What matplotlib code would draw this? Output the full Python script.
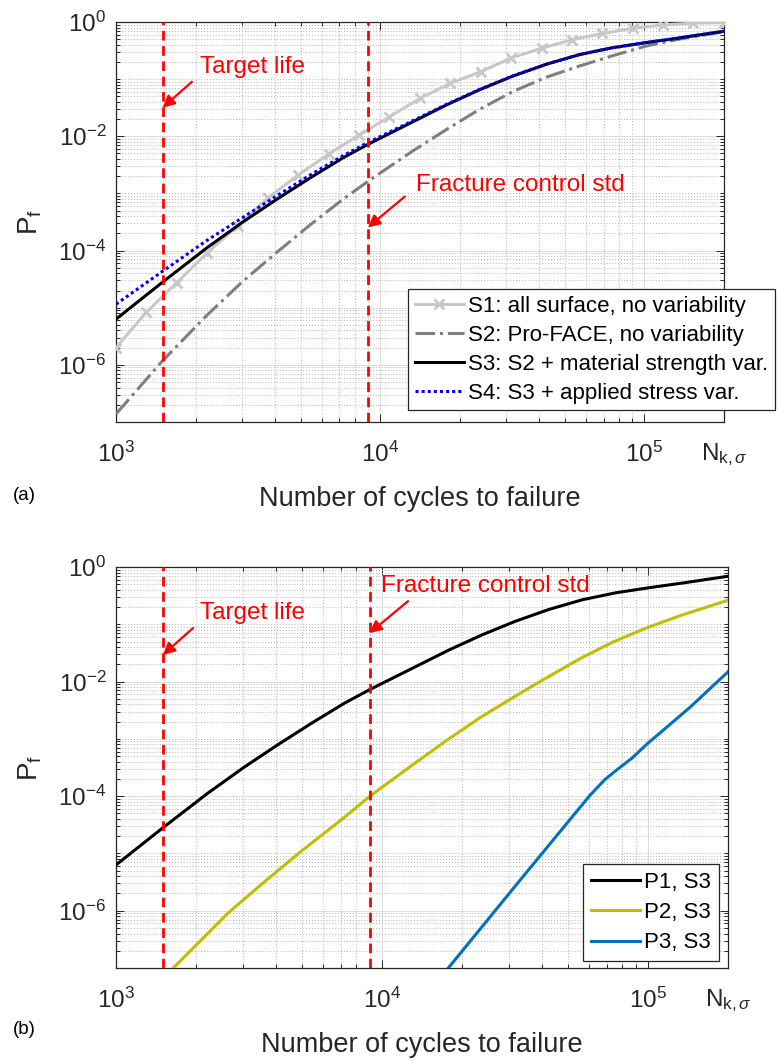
import matplotlib
matplotlib.use('Agg')
import matplotlib.pyplot as plt
from matplotlib.ticker import FixedLocator, NullFormatter

plt.rcParams['font.family'] = ['Liberation Sans', 'DejaVu Sans']
plt.rcParams['mathtext.fontset'] = 'custom'
plt.rcParams['mathtext.rm'] = 'Liberation Sans'
plt.rcParams['mathtext.it'] = 'Liberation Sans:italic'
plt.rcParams['mathtext.sf'] = 'Liberation Sans'

# ---------------- data ----------------
# Panel (a)
N_S1 = [1000, 1303, 1698, 2213, 2884, 3758, 4897, 6382, 8318, 10840, 14142,
        18428, 24016, 31298, 40786, 53183, 69278, 90283, 117648, 153320, 200000]
P_S1 = [2.0e-6, 8.3e-6, 2.75e-5, 9.1e-5, 2.7e-4, 8.3e-4, 2.1e-3, 4.9e-3, 1.05e-2,
        2.2e-2, 4.6e-2, 8.5e-2, 0.135, 0.234, 0.347, 0.49, 0.63, 0.776, 0.89,
        0.955, 0.977]

N_S = [1000, 1493, 2210, 3020, 4060, 5420, 7230, 8970, 13250, 17840, 23730,
       31600, 42500, 56800, 75800, 101700, 135000, 200000]
P_S2 = [1.38e-7, 1.15e-6, 7.4e-6, 2.9e-5, 9.3e-5, 2.8e-4, 7.9e-4, 1.62e-3,
        5.5e-3, 1.32e-2, 2.95e-2, 6.0e-2, 0.108, 0.17, 0.257, 0.38, 0.50, 0.676]
P_S3 = [6.3e-6, 2.75e-5, 1.12e-4, 3.16e-4, 7.9e-4, 1.86e-3, 4.2e-3, 7.2e-3,
        1.78e-2, 3.55e-2, 6.5e-2, 0.112, 0.182, 0.269, 0.355, 0.437, 0.525, 0.69]
P_S4 = [1.15e-5, 4.27e-5, 1.51e-4, 3.8e-4, 9.1e-4, 2.09e-3, 4.57e-3, 7.76e-3,
        1.86e-2, 3.63e-2, 6.6e-2, 0.1135, 0.183, 0.27, 0.356, 0.437, 0.525, 0.69]

LABELS_A = ['S1: all surface, no variability',
            'S2: Pro-FACE, no variability',
            'S3: S2 + material strength var.',
            'S4: S3 + applied stress var.']

# Panel (b)
N_P1 = N_S
P_P1 = P_S3
N_P2 = [1642, 2637, 3478, 4918, 6953, 9013, 13080, 17560, 23360, 31080, 39270,
        55530, 73860, 99130, 131900, 200000]
P_P2 = [1.0e-7, 9.1e-7, 2.75e-6, 1.05e-5, 3.7e-5, 1.0e-4, 3.55e-4, 9.5e-4,
        2.34e-3, 5.25e-3, 1.0e-2, 2.51e-2, 4.9e-2, 8.7e-2, 0.141, 0.263]
N_P3 = [17760, 33030, 60160, 68900, 77300, 87060, 99130, 143900, 200000]
P_P3 = [1.0e-7, 3.4e-6, 1.0e-4, 1.95e-4, 3.0e-4, 4.6e-4, 8.1e-4, 3.55e-3, 1.48e-2]

LABELS_B = ['P1, S3', 'P2, S3', 'P3, S3']

TARGET_LIFE = 1500
FRACTURE_STD = 8980

XTICKS = [1e3, 1e4, 1e5, 2e5]
XTICKLABELS = [r'$10^{3}$', r'$10^{4}$', r'$10^{5}$', r'$\mathrm{N}_{\mathrm{k},\sigma}$']
YTICKS = [1e-6, 1e-4, 1e-2, 1e0]
YTICKLABELS = [r'$10^{-6}$', r'$10^{-4}$', r'$10^{-2}$', r'$10^{0}$']

AX_COL = '#262626'


def style(ax):
    ax.set_xscale('log')
    ax.set_yscale('log')
    ax.set_xlim(1e3, 2e5)
    ax.set_ylim(1e-7, 1)
    ax.xaxis.set_major_locator(FixedLocator(XTICKS))
    ax.set_xticklabels(XTICKLABELS)
    xminor = [k * 10 ** e for e in (3, 4) for k in range(2, 10)]
    ax.xaxis.set_minor_locator(FixedLocator(xminor))
    ax.xaxis.set_minor_formatter(NullFormatter())
    ax.yaxis.set_major_locator(FixedLocator(YTICKS))
    ax.set_yticklabels(YTICKLABELS)
    yminor = [k * 10.0 ** e for e in range(-7, 0) for k in range(1, 10)
              if not (k == 1 and e in (-6, -4, -2))]
    ax.yaxis.set_minor_locator(FixedLocator(yminor))
    ax.yaxis.set_minor_formatter(NullFormatter())
    ax.grid(True, which='major', color='#dcdcdc', lw=0.7, ls='-')
    ax.grid(True, which='minor', color='#b5b5b5', lw=0.7, ls=(0, (1, 2)))
    ax.set_axisbelow(True)
    ax.tick_params(which='both', direction='in', top=True, right=True,
                   color=AX_COL, labelcolor=AX_COL, width=0.7)
    ax.tick_params(which='major', length=6, labelsize=17.5)
    ax.tick_params(which='minor', length=3)
    ax.tick_params(axis='x', which='major', pad=14)
    ax.tick_params(axis='y', which='major', pad=7)
    for s in ax.spines.values():
        s.set_color(AX_COL)
        s.set_linewidth(0.9)
    ax.set_xlabel('Number of cycles to failure', fontsize=19.5, color=AX_COL,
                  labelpad=13)
    ax.set_ylabel(r'$\mathrm{P}_{\mathrm{f}}$', fontsize=20, color=AX_COL,
                  labelpad=10)
    for xv in (TARGET_LIFE, FRACTURE_STD):
        ax.axvline(xv, color='#ff0000', lw=2, ls=(0, (3.5, 2)), zorder=5)


def arrow(ax, tip, tail):
    ax.annotate('', xy=tip, xytext=tail,
                arrowprops=dict(arrowstyle='-|>', color='#ff0000', lw=1.6,
                                mutation_scale=18, shrinkA=0, shrinkB=0),
                zorder=6)


fig = plt.figure(figsize=(7.78, 10.61), dpi=100)
axA = fig.add_axes([116 / 778, 1 - 422 / 1061, 608 / 778, 400 / 1061])
axB = fig.add_axes([116 / 778, 1 - 968 / 1061, 612 / 778, 401 / 1061])

# ---- panel (a)
style(axA)
axA.plot(N_S1, P_S1, color='#c8c8c8', lw=2.2, marker='x', ms=7, mew=2,
         label=LABELS_A[0], zorder=3)
axA.plot(N_S, P_S2, color='#7f7f7f', lw=2.2, ls='-.', label=LABELS_A[1], zorder=3)
axA.plot(N_S, P_S3, color='black', lw=2.2, label=LABELS_A[2], zorder=4)
axA.plot(N_S, P_S4, color='#0000ff', lw=2.2, ls=(0, (1, 1)), label=LABELS_A[3],
         zorder=4)
axA.text(2078, 0.164, 'Target life', color='#ff0000', fontsize=17.5,
         ha='left', va='center', zorder=6)
arrow(axA, (TARGET_LIFE, 0.0316), (1937, 0.0897))
axA.text(13620, 1.43e-3, 'Fracture control std', color='#ff0000', fontsize=17.5,
         ha='left', va='center', zorder=6)
arrow(axA, (FRACTURE_STD, 2.54e-4), (12380, 8.8e-4))
legA = axA.legend(loc='upper left', bbox_to_anchor=(408 / 778, 1 - 289 / 1061),
                  bbox_transform=fig.transFigure, fontsize=16, frameon=True,
                  fancybox=False, framealpha=1, edgecolor=AX_COL,
                  handlelength=2.2, handletextpad=0.2, labelspacing=0.36,
                  borderpad=0.3, borderaxespad=0, numpoints=1)
legA.get_frame().set_linewidth(0.9)
legA.set_zorder(10)
fig.text(13 / 778, 1 - 496 / 1061, '(a)', fontsize=13.5, va='center', ha='left')

# ---- panel (b)
style(axB)
axB.plot(N_P1, P_P1, color='black', lw=2.2, label=LABELS_B[0], zorder=4)
axB.plot(N_P2, P_P2, color='#bfbf00', lw=2.2, label=LABELS_B[1], zorder=4)
axB.plot(N_P3, P_P3, color='#0072bd', lw=2.2, label=LABELS_B[2], zorder=4)
axB.text(2070, 0.157, 'Target life', color='#ff0000', fontsize=17.5,
         ha='left', va='center', zorder=6)
arrow(axB, (TARGET_LIFE, 0.0291), (1948, 0.086))
axB.text(9900, 0.46, 'Fracture control std', color='#ff0000', fontsize=17.5,
         ha='left', va='center', zorder=6)
arrow(axB, (FRACTURE_STD, 0.0703), (12530, 0.253))
legB = axB.legend(loc='upper left', bbox_to_anchor=(583 / 778, 1 - 864 / 1061),
                  bbox_transform=fig.transFigure, fontsize=16, frameon=True,
                  fancybox=False, framealpha=1, edgecolor=AX_COL,
                  handlelength=2.2, handletextpad=0.2, labelspacing=0.42,
                  borderpad=0.35, borderaxespad=0)
legB.get_frame().set_linewidth(0.9)
legB.set_zorder(10)
fig.text(13 / 778, 1 - 1030 / 1061, '(b)', fontsize=13.5, va='center', ha='left')

fig.savefig('out.png', dpi=100)
